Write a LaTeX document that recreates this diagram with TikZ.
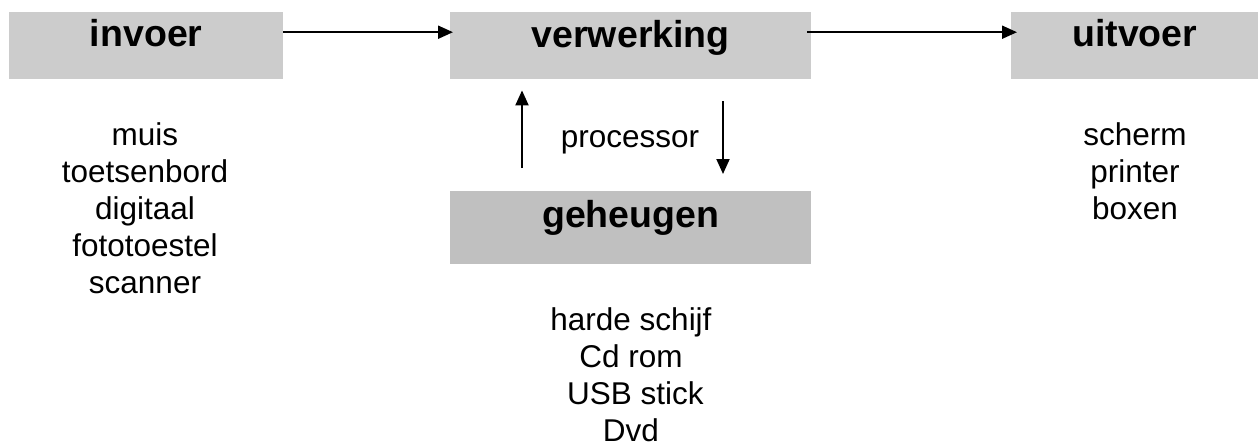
\documentclass[tikz,border=0pt]{standalone}
\usepackage{fontspec}
\setmainfont{Liberation Sans}
\usetikzlibrary{arrows.meta}
\definecolor{boxgray}{HTML}{CCCCCC}
\definecolor{memgray}{HTML}{C0C0C0}
\tikzset{
  stage/.style={fill=boxgray, draw=none, inner sep=0pt, anchor=north west,
    font=\fontsize{37.5}{40}\selectfont\bfseries},
  listtext/.style={anchor=base, align=center, inner sep=0pt,
    font=\fontsize{31.5}{37}\selectfont},
  flow/.style={line width=2pt, -{Triangle[length=15pt,width=13pt]}},
}
\begin{document}
\begin{tikzpicture}[x=1pt,y=1pt]
  \useasboundingbox (0,0) rectangle (1258,-444);

  % the four stages
  \node[stage, minimum width=274pt, text height=34.5pt, text depth=32.5pt] (invoer) at (9,-12) {invoer};
  \node[stage, minimum width=361pt, text height=35pt, text depth=32pt] (verwerking) at (450,-12) {verwerking};
  \node[stage, minimum width=247pt, text height=34.5pt, text depth=32.5pt] (uitvoer) at (1011,-12) {uitvoer};
  \node[stage, fill=memgray, minimum width=361pt, text height=36pt, text depth=37pt] (geheugen) at (450,-191) {geheugen};

  % main flow
  \draw[flow, shorten >=-3pt] ([yshift=13.5pt]invoer.east) -- ([yshift=13.5pt]verwerking.west);
  \draw[flow, shorten <=-4pt, shorten >=-6pt] ([yshift=13.5pt]verwerking.east) -- ([yshift=13.5pt]uitvoer.west);

  % exchange between processor and memory
  \draw[flow, shorten <=23pt, shorten >=11pt] (geheugen.north -| 522,0) -- (verwerking.south -| 522,0);
  \draw[flow, shorten <=22pt, shorten >=17pt] (verwerking.south -| 723,0) -- (geheugen.north -| 723,0);
  \node[listtext] (processor) at (630,-147) {processor};

  % examples (anchored at the baseline of their last line)
  \node[listtext] (invoerlijst) at (145,-293) {muis\\toetsenbord\\digitaal\\fototoestel\\scanner};
  \node[listtext] (uitvoerlijst) at (1135,-219) {scherm\\printer\\boxen};
  \node[listtext] (geheugenlijst) at (631,-441) {harde schijf\\Cd rom\\\hspace*{0.28em}USB stick\\Dvd};
\end{tikzpicture}
\end{document}
